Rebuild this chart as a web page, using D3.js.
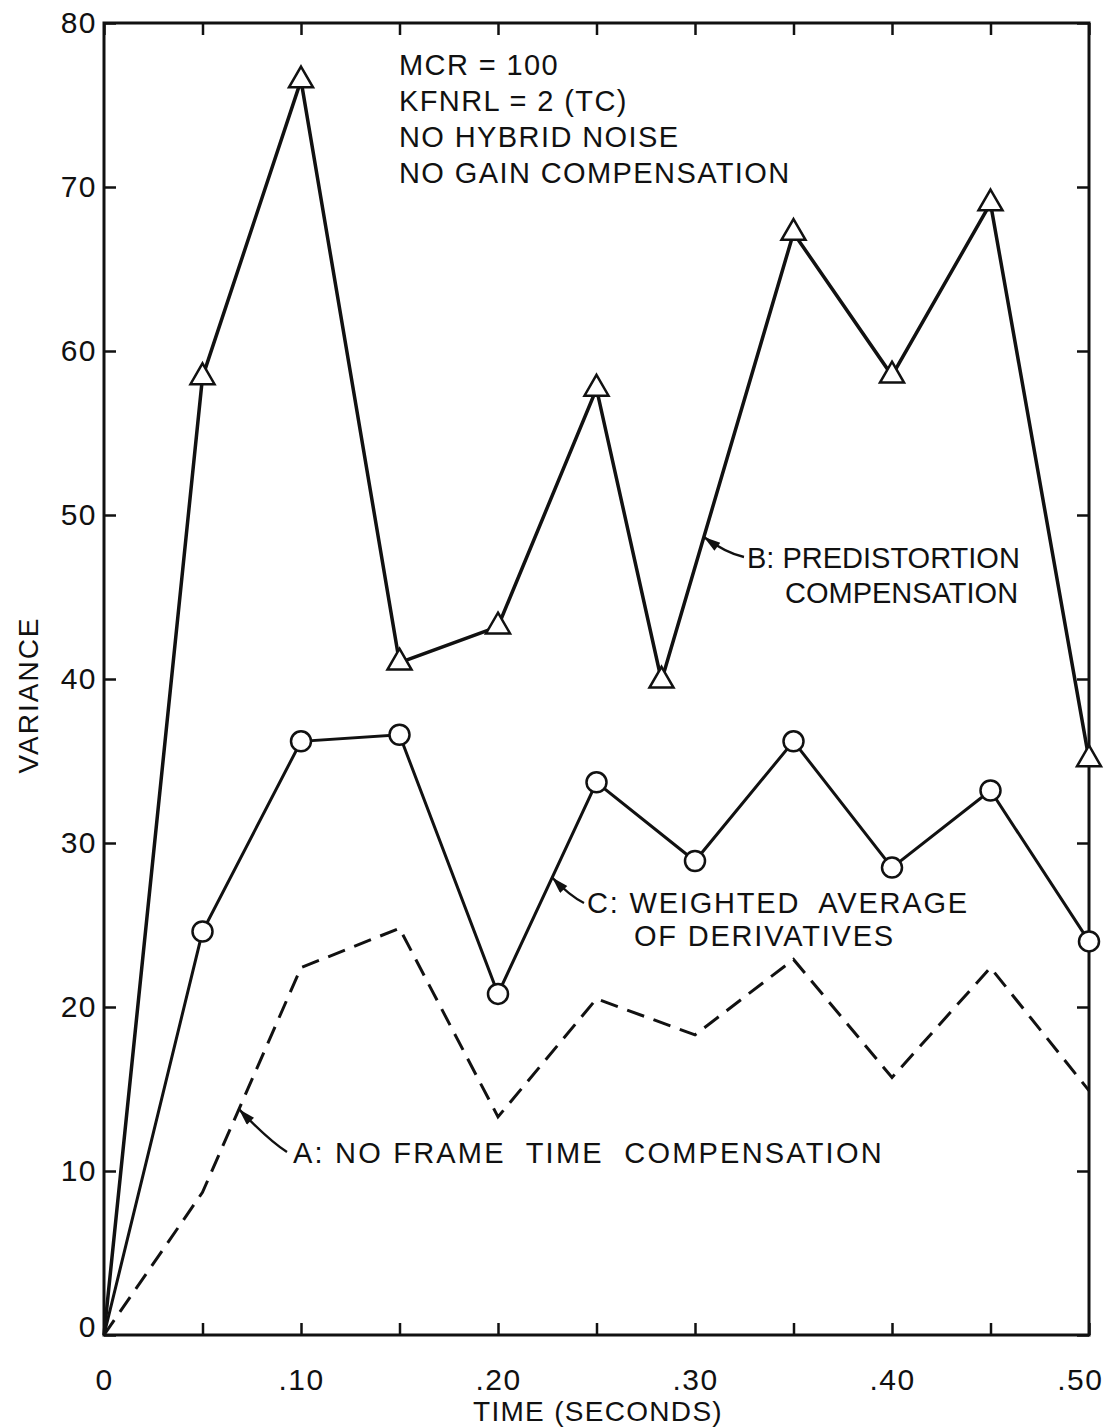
<!DOCTYPE html>
<html>
<head>
<meta charset="utf-8">
<script src="https://cdn.jsdelivr.net/npm/d3@7"></script>
<style>
  body { margin: 0; background: #fff; }
  text { font-family: "Liberation Sans", Arial, sans-serif; fill: #111; }
</style>
</head>
<body>
<div id="chart"></div>
<script>
// --- data ---
var timeA = [0, 0.05, 0.10, 0.15, 0.20, 0.25, 0.30, 0.35, 0.40, 0.45, 0.50];
var varianceA = [0, 8.7, 22.4, 24.8, 13.3, 20.5, 18.3, 22.9, 15.7, 22.4, 14.9];

var timeB = [0, 0.05, 0.10, 0.15, 0.20, 0.25, 0.283, 0.35, 0.40, 0.45, 0.50];
var varianceB = [0, 58.4, 76.5, 41.0, 43.2, 57.7, 39.9, 67.2, 58.5, 69.0, 35.1];

var timeC = [0, 0.05, 0.10, 0.15, 0.20, 0.25, 0.30, 0.35, 0.40, 0.45, 0.50];
var varianceC = [0, 24.6, 36.2, 36.6, 20.8, 33.7, 28.9, 36.2, 28.5, 33.2, 24.0];

var xTicks = [0, 0.05, 0.10, 0.15, 0.20, 0.25, 0.30, 0.35, 0.40, 0.45, 0.50];
var xTickLabels = ["0", "", ".10", "", ".20", "", ".30", "", ".40", "", ".50"];
var yTicks = [0, 10, 20, 30, 40, 50, 60, 70, 80];

var noteLines = ["MCR = 100", "KFNRL = 2 (TC)", "NO HYBRID NOISE", "NO GAIN COMPENSATION"];
var labelA = ["A: NO FRAME  TIME  COMPENSATION"];
var labelB = ["B: PREDISTORTION", "COMPENSATION"];
var labelC = ["C: WEIGHTED  AVERAGE", "OF DERIVATIVES"];

// --- layout ---
const w = 1105;
const h = 1427;
const padL = 104, padR = 1089, padT = 23, padB = 1335;
const tickLen = 12;

var x = d3.scaleLinear().domain([0, 0.5]).range([padL, padR]);
var y = d3.scaleLinear().domain([0, 80]).range([padB, padT]);

var svg = d3.select("#chart").append("svg")
    .attr("width", w)
    .attr("height", h);

svg.append("rect").attr("width", w).attr("height", h).attr("fill", "#fff");

var defs = svg.append("defs");
defs.append("marker")
    .attr("id", "head")
    .attr("viewBox", "0 0 10 6")
    .attr("refX", 10).attr("refY", 3)
    .attr("markerWidth", 18).attr("markerHeight", 10)
    .attr("markerUnits", "userSpaceOnUse")
    .attr("orient", "auto")
    .append("path")
    .attr("d", "M0,0 L10,3 L0,6 Z")
    .attr("fill", "#111");

// --- axes (ticks point inward on all four sides) ---
var xAxis = d3.axisBottom(x).tickValues(xTicks)
    .tickSize(-tickLen).tickSizeOuter(0).tickPadding(34)
    .tickFormat(function (d, i) { return xTickLabels[i]; });
var xTop = d3.axisTop(x).tickValues(xTicks)
    .tickSize(-tickLen).tickSizeOuter(0).tickFormat("");
var yAxis = d3.axisLeft(y).tickValues(yTicks)
    .tickSize(-tickLen).tickSizeOuter(0).tickPadding(7);
var yRight = d3.axisRight(y).tickValues(yTicks)
    .tickSize(-tickLen).tickSizeOuter(0).tickFormat("");

function styleAxis(g) {
    g.select(".domain").remove();
    g.selectAll(".tick line").attr("stroke", "#111").attr("stroke-width", 2.5);
    g.selectAll(".tick text")
        .attr("font-family", "Liberation Sans, Arial, sans-serif")
        .attr("font-size", 30)
        .attr("letter-spacing", 1.5)
        .attr("fill", "#111");
}

var gx = svg.append("g").attr("transform", "translate(0," + padB + ")").call(xAxis).call(styleAxis);
// last label sits inside the page edge, as in the original
gx.selectAll(".tick text")
    .filter(function (d, i) { return i === xTicks.length - 1; })
    .attr("text-anchor", "end")
    .attr("dx", 14);

svg.append("g").attr("transform", "translate(0," + padT + ")").call(xTop).call(styleAxis);
var gy = svg.append("g").attr("transform", "translate(" + padL + ",0)").call(yAxis).call(styleAxis);
gy.selectAll(".tick text")
    .filter(function (d) { return d === 0; })
    .attr("dy", "0.05em");
svg.append("g").attr("transform", "translate(" + padR + ",0)").call(yRight).call(styleAxis);

// frame
svg.append("rect")
    .attr("x", padL).attr("y", padT)
    .attr("width", padR - padL).attr("height", padB - padT)
    .attr("fill", "none").attr("stroke", "#111").attr("stroke-width", 3);

// axis titles
svg.append("text")
    .attr("x", 598).attr("y", 1421)
    .attr("text-anchor", "middle")
    .attr("font-size", 28)
    .attr("letter-spacing", 1.3)
    .text("TIME (SECONDS)");

svg.append("text")
    .attr("transform", "translate(38,695) rotate(-90)")
    .attr("text-anchor", "middle")
    .attr("font-size", 28)
    .attr("letter-spacing", 2)
    .text("VARIANCE");

// --- series ---
var line = d3.line()
    .x(function (d) { return x(d[0]); })
    .y(function (d) { return y(d[1]); });

var dataA = d3.zip(timeA, varianceA);
var dataB = d3.zip(timeB, varianceB);
var dataC = d3.zip(timeC, varianceC);

svg.append("path").datum(dataA)
    .attr("d", line)
    .attr("fill", "none").attr("stroke", "#111")
    .attr("stroke-width", 3).attr("stroke-dasharray", "18,10");

svg.append("path").datum(dataC)
    .attr("d", line)
    .attr("fill", "none").attr("stroke", "#111").attr("stroke-width", 3);

svg.append("path").datum(dataB)
    .attr("d", line)
    .attr("fill", "none").attr("stroke", "#111").attr("stroke-width", 3.5);

svg.selectAll(".circ")
    .data(dataC.slice(1))
    .enter()
    .append("circle")
    .attr("class", "circ")
    .attr("cx", function (d) { return x(d[0]); })
    .attr("cy", function (d) { return y(d[1]); })
    .attr("r", 10)
    .attr("fill", "#fff").attr("stroke", "#111").attr("stroke-width", 2.5);

var tri = d3.symbol().type(d3.symbolTriangle).size(250);
svg.selectAll(".tri")
    .data(dataB.slice(1))
    .enter()
    .append("path")
    .attr("class", "tri")
    .attr("transform", function (d) { return "translate(" + x(d[0]) + "," + y(d[1]) + ")"; })
    .attr("d", tri)
    .attr("fill", "#fff").attr("stroke", "#111").attr("stroke-width", 2.5);

// --- text notes ---
svg.selectAll(".note")
    .data(noteLines)
    .enter()
    .append("text")
    .attr("class", "note")
    .attr("x", 399)
    .attr("y", function (d, i) { return 75 + i * 36; })
    .attr("font-size", 29)
    .attr("letter-spacing", 1.4)
    .text(function (d) { return d; });

function interp(ts, vs, t) {
    for (var i = 1; i < ts.length; i++) {
        if (t <= ts[i]) {
            var f = (t - ts[i - 1]) / (ts[i] - ts[i - 1]);
            return vs[i - 1] + f * (vs[i] - vs[i - 1]);
        }
    }
    return vs[vs.length - 1];
}

function pointer(tx, ty, t, ts, vs, bend) {
    var px = x(t), py = y(interp(ts, vs, t));
    var cx = (tx + px) / 2 + bend[0], cy = (ty + py) / 2 + bend[1];
    svg.append("path")
        .attr("d", "M" + tx + "," + ty + " Q" + cx + "," + cy + " " + px + "," + py)
        .attr("fill", "none").attr("stroke", "#111").attr("stroke-width", 2.4)
        .attr("marker-end", "url(#head)");
}

// A label
svg.append("text").attr("x", 293).attr("y", 1163)
    .attr("font-size", 29).attr("letter-spacing", 2.2)
    .attr("xml:space", "preserve")
    .text(labelA[0]);
pointer(287, 1152, 0.0685, timeA, varianceA, [6, 10]);

// B label
svg.selectAll(".lb").data(labelB).enter().append("text")
    .attr("class", "lb")
    .attr("x", function (d, i) { return i === 0 ? 747 : 785; })
    .attr("y", function (d, i) { return 568 + i * 35; })
    .attr("font-size", 29).attr("letter-spacing", 0)
    .text(function (d) { return d; });
pointer(744, 557, 0.3045, timeB, varianceB, [2, 6]);

// C label
svg.selectAll(".lc").data(labelC).enter().append("text")
    .attr("class", "lc")
    .attr("x", function (d, i) { return i === 0 ? 587 : 634; })
    .attr("y", function (d, i) { return 913 + i * 33; })
    .attr("font-size", 29).attr("letter-spacing", 1.8)
    .attr("xml:space", "preserve")
    .text(function (d) { return d; });
pointer(584, 903, 0.2275, timeC, varianceC, [2, 6]);
</script>
</body>
</html>
